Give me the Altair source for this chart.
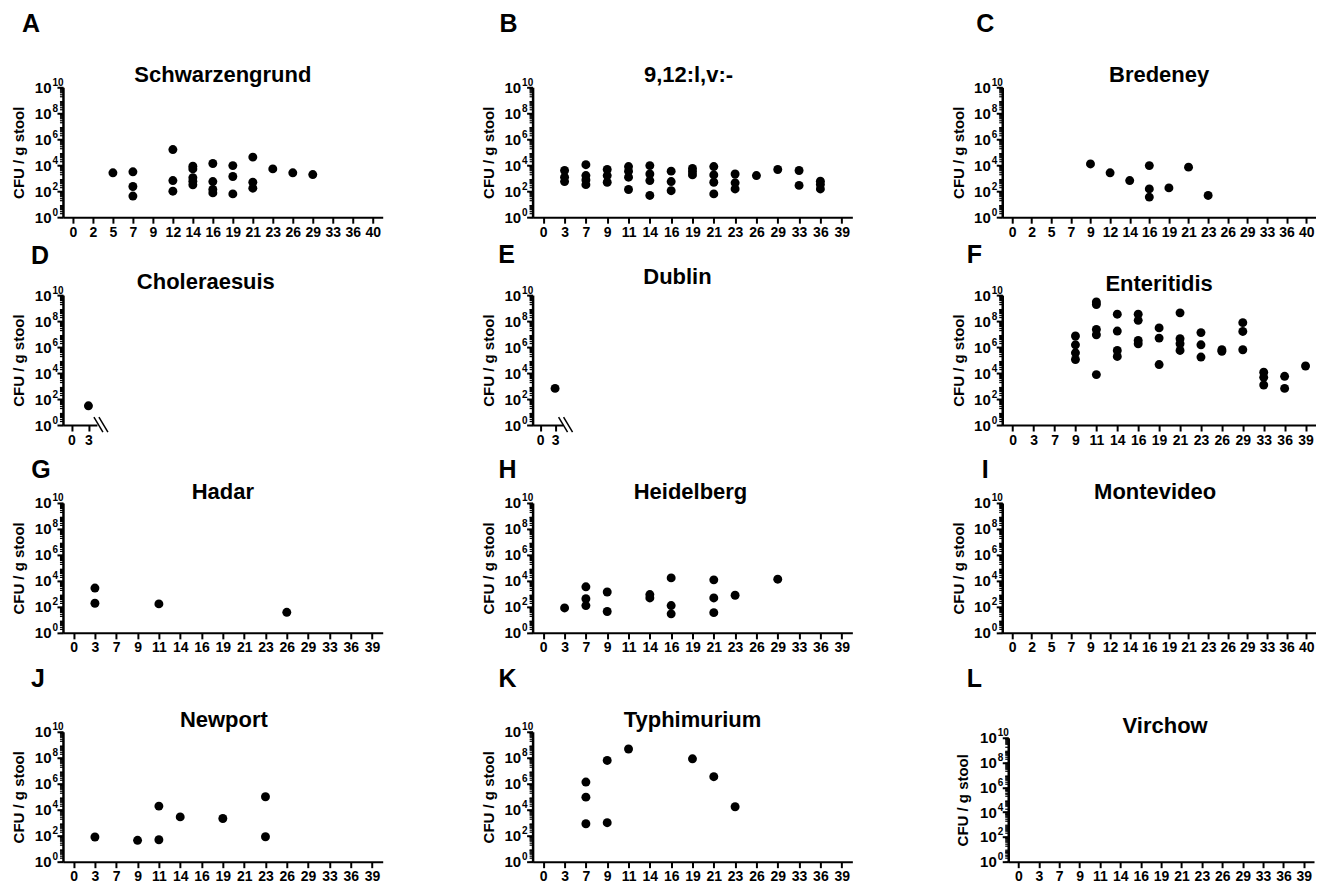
import altair as alt
import pandas as pd

FONT = "Liberation Sans"
W, H = 320, 130

# ---------------- tick labels ----------------
days16 = ["0", "2", "5", "7", "9", "12", "14", "16", "19", "21", "23", "26", "29", "33", "36", "40"]
days15 = ["0", "3", "7", "9", "11", "14", "16", "19", "21", "23", "26", "29", "33", "36", "39"]
days2 = ["0", "3"]

y_ticks = [1, 1e2, 1e4, 1e6, 1e8, 1e10]
y_base = "10"
y_exps = ["0", "2", "4", "6", "8", "10"]
y_title = "CFU / g stool"
minor_ticks = [m * 10 ** k for k in range(10) for m in range(2, 10)]

# ---------------- data (day, CFU / g stool) ----------------
a_day = [5, 7, 7, 7, 12, 12, 12, 14, 14, 14, 14, 14, 16, 16, 16, 16, 19, 19, 19, 21, 21, 21, 23, 26, 29]
a_cfu = [2.6e3, 3.1e3, 2.3e2, 42, 1.6e5, 6.6e2, 1.0e2, 8.3e3, 5.2e3, 1.1e3, 5.9e2, 3.1e2,
         1.35e4, 5.5e2, 1.35e2, 74, 9.3e3, 1.35e3, 62, 4.2e4, 4.9e2, 1.7e2, 5.2e3, 2.6e3, 1.9e3]

b_day = [3, 3, 3, 7, 7, 7, 7, 9, 9, 9, 11, 11, 11, 11, 14, 14, 14, 14, 16, 16, 16, 19, 19, 19,
         21, 21, 21, 21, 23, 23, 23, 26, 29, 33, 33, 36, 36, 36]
b_cfu = [3.9e3, 1.2e3, 5.5e2, 1.1e4, 1.6e3, 7.4e2, 3.2e2, 4.7e3, 1.6e3, 4.9e2, 7.9e3, 3.5e3, 1.2e3, 1.35e2,
         9.3e3, 2.1e3, 6.6e2, 47, 3.5e3, 5.5e2, 1.1e2, 5.6e3, 3.2e3, 1.8e3, 7.9e3, 1.8e3, 4.9e2, 62,
         2.1e3, 4.4e2, 1.5e2, 1.6e3, 4.7e3, 3.9e3, 2.8e2, 5.9e2, 3.3e2, 1.5e2]

c_day = [9, 12, 14, 16, 16, 16, 19, 21, 23]
c_cfu = [1.26e4, 2.6e3, 6.6e2, 9.3e3, 1.5e2, 35, 1.8e2, 7.1e3, 47]

d_day = [3]
d_cfu = [30]

e_day = [3]
e_cfu = [6.6e2]

f_day = [9, 9, 9, 9, 11, 11, 11, 11, 11, 14, 14, 14, 14, 16, 16, 16, 16, 19, 19, 19,
         21, 21, 21, 21, 23, 23, 23, 26, 26, 29, 29, 29, 33, 33, 33, 36, 36, 39]
f_cfu = [7.1e6, 1.5e6, 3.6e5, 1.1e5, 3.0e9, 1.9e9, 2.3e7, 8.9e6, 7.6e3, 3.4e8, 1.7e7, 5.5e5, 1.9e5,
         3.4e8, 1.15e8, 3.2e6, 1.8e6, 3.0e7, 4.9e6, 4.5e4, 4.3e8, 4.4e6, 1.8e6, 5.5e5,
         1.3e7, 1.5e6, 1.7e5, 6.3e5, 4.8e5, 7.6e7, 1.6e7, 6.2e5, 1.15e4, 4.7e3, 1.2e3, 5.6e3, 6.6e2, 3.5e4]

g_day = [3, 3, 11, 26]
g_cfu = [2.8e3, 1.9e2, 1.7e2, 38]

h_day = [3, 7, 7, 7, 9, 9, 14, 14, 16, 16, 16, 21, 21, 21, 23, 29]
h_cfu = [83, 3.5e3, 4.2e2, 1.26e2, 1.4e3, 44, 8.9e2, 4.9e2, 1.7e4, 1.26e2, 29, 1.2e4, 4.9e2, 36, 7.9e2, 1.35e4]

i_day = []
i_cfu = []

j_day = [3, 9, 11, 11, 14, 19, 23, 23]
j_cfu = [79, 44, 1.9e4, 49, 2.8e3, 2.1e3, 1.0e5, 83]

k_day = [7, 7, 7, 9, 9, 11, 19, 21, 23]
k_cfu = [1.35e6, 9.3e4, 8.3e2, 6.2e7, 1.0e3, 4.7e8, 8.3e7, 3.5e6, 1.7e4]

l_day = []
l_cfu = []

# ---------------- styling helpers ----------------
base_expr = "'%s'" % y_base
half_exp = "log(datum.value)/LN10/2"
exp_expr = ("abs(%s - round(%s)) < 0.001 ? [%s][round(%s)] : ''"
            % (half_exp, half_exp, ",".join("'%s'" % s for s in y_exps), half_exp))
ax_common = dict(domainColor="black", tickColor="black", labelColor="black",
                 labelFont=FONT, labelFontWeight="bold", grid=False)


def text_layer(txt, x, y, size):
    return alt.Chart(pd.DataFrame({"t": [txt]})).mark_text(
        font=FONT, fontWeight="bold", fontSize=size, align="center",
        baseline="middle", color="black"
    ).encode(text="t:N", x=alt.value(x), y=alt.value(y))


def slash(x1, y1, x2, y2):
    return alt.Chart(pd.DataFrame({"t": [0]})).mark_rule(color="black", strokeWidth=1.5).encode(
        x=alt.value(x1), y=alt.value(y1), x2=alt.value(x2), y2=alt.value(y2))


def panel(letter, name, ticks, days, cfu, lpos, tpos, width=W, height=H,
          xrange=None, yrange=None, yoff=0, breaks=(), title_x=-44):
    df = pd.DataFrame({"day": [str(d) for d in days], "cfu": [float(v) for v in cfu]})
    if xrange is None:
        xrange = [0, width]
    if yrange is None:
        yrange = [height, 0]
    ymid = (yrange[0] + yrange[1]) / 2
    xscale = alt.Scale(type="point", domain=ticks, padding=0.5, range=xrange)
    yscale = alt.Scale(type="log", domain=[1, 1e10], range=yrange)
    xaxis = alt.Axis(title=None, labelAngle=0, labelFontSize=14, labelPadding=2,
                     tickSize=6, tickWidth=2, domainWidth=2, labelOverlap=False, **ax_common)
    ymajor = alt.Axis(values=y_ticks, labelExpr=base_expr, labelFontSize=15, labelPadding=6,
                      tickSize=6, tickWidth=2, domainWidth=2.5, labelOverlap=False,
                      title=y_title, titleFont=FONT, titleFontSize=15, titleFontWeight="bold",
                      titleColor="black", titleAngle=270, titleX=title_x, titleY=ymid,
                      titleAlign="center", titleBaseline="middle", orient="left", offset=yoff,
                      **ax_common)
    # minor ticks plus the exponent (superscript) labels at the decades
    yminor = alt.Axis(values=minor_ticks + y_ticks, labelExpr=exp_expr, labelFontSize=10,
                      labelPadding=7.5, labelAlign="left", labelBaseline="middle", labelOffset=-5,
                      labelOverlap=False, domain=False, tickSize=3.5, tickWidth=1.2,
                      title=None, orient="left", offset=yoff, **ax_common)
    pts = alt.Chart(df).mark_circle(size=80, color="black", opacity=1).encode(
        x=alt.X("day:O", scale=xscale, axis=xaxis),
        y=alt.Y("cfu:Q", scale=yscale, axis=ymajor))
    minor = alt.Chart(df).mark_circle(opacity=0).encode(
        y=alt.Y("cfu:Q", scale=yscale, axis=yminor))
    layers = [pts, minor, text_layer(letter, lpos[0], lpos[1], 25),
              text_layer(name, tpos[0], tpos[1], 22)]
    layers += [slash(*b) for b in breaks]
    return alt.layer(*layers).resolve_axis(y="independent").properties(width=width, height=height)


pA = panel("A", "Schwarzengrund", days16, a_day, a_cfu, (-32, -63), (160, -12))
pB = panel("B", "9,12:l,v:-", days15, b_day, b_cfu, (-24, -63), (156, -12))
pC = panel("C", "Bredeney", days16, c_day, c_cfu, (-17, -63), (157, -12), width=314)

pD = panel("D", "Choleraesuis", days2, d_day, d_cfu, (-23, -39), (143, -13), xrange=[0, 34],
           breaks=[(31, 122, 40, 137), (36, 122, 45, 137)])
pE = panel("E", "Dublin", days2, e_day, e_cfu, (-26, -40), (145, -18), xrange=[0, 30],
           breaks=[(26, 122, 35, 137), (31, 122, 40, 137)])
pF = panel("F", "Enteritidis", days15, f_day, f_cfu, (-28, -40), (157, -11), width=314)

pG = panel("G", "Hadar", days15, g_day, g_cfu, (-22, -33), (160, -11))
pH = panel("H", "Heidelberg", days15, h_day, h_cfu, (-25, -33), (158, -11))
pI = panel("I", "Montevideo", days16, i_day, i_cfu, (-17, -33), (153, -11), width=314)

# bottom row: the plot frame sits lower inside a taller view
pJ = panel("J", "Newport", days15, j_day, j_cfu, (-25, -32), (161, 9), height=151, yrange=[151, 21])
pK = panel("K", "Typhimurium", days15, k_day, k_cfu, (-25, -32), (160, 9), height=151, yrange=[151, 21])
pL = panel("L", "Virchow", days15, l_day, l_cfu, (-28, -32), (163, 15), width=314, height=151,
           xrange=[6, 312], yrange=[151, 27], yoff=-6, title_x=-46)

chart = alt.concat(pA, pB, pC, pD, pE, pF, pG, pH, pI, pJ, pK, pL,
                   columns=3, spacing={"row": 78, "column": 150}, bounds="flush").properties(
    padding={"left": 4, "top": 4, "right": 0, "bottom": 0}
).configure_view(strokeWidth=0)

chart.save("out.html", embed_options={"renderer": "svg", "actions": False})
